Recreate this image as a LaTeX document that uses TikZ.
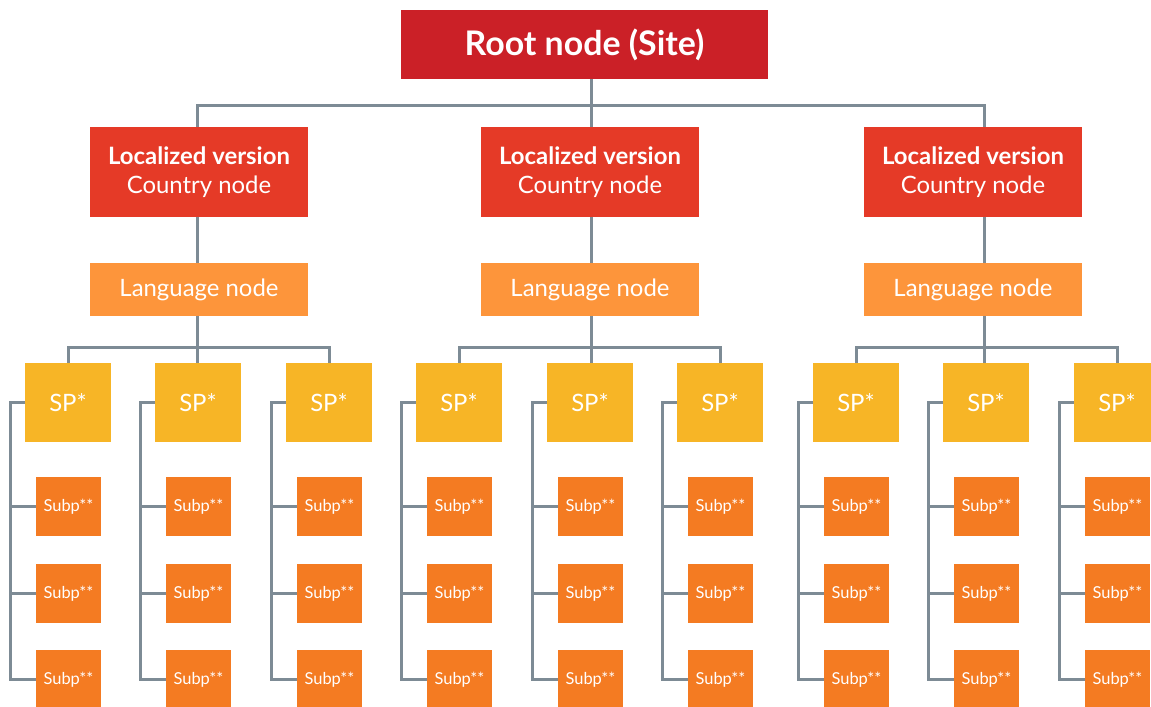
\documentclass[tikz,border=0pt]{standalone}
\usepackage{fontspec}
\setmainfont{Lato}
\definecolor{rootred}{HTML}{CB2027}
\definecolor{countryred}{HTML}{E53A27}
\definecolor{langorange}{HTML}{FD953B}
\definecolor{spyellow}{HTML}{F7B526}
\definecolor{subporange}{HTML}{F47B22}
\definecolor{linkgray}{HTML}{7D8B95}
\tikzset{
  box/.style={rectangle, inner sep=0pt, text=white, align=center},
  rootbox/.style={box, fill=rootred, minimum width=367bp, minimum height=69bp,
    font=\fontsize{34}{38}\bfseries},
  countrybox/.style={box, fill=countryred, minimum width=218bp, minimum height=89bp,
    font=\fontsize{24}{29}\selectfont},
  langbox/.style={box, fill=langorange, minimum width=218bp, minimum height=53bp,
    font=\fontsize{24}{28}\selectfont},
  spbox/.style={box, fill=spyellow, minimum width=86bp, minimum height=79bp,
    font=\fontsize{24}{28}\selectfont},
  subpbox/.style={box, fill=subporange, minimum width=65bp, minimum height=59bp,
    font=\fontsize{16.5}{20}\selectfont},
  link/.style={draw=linkgray, line width=3bp}
}
\begin{document}
\begin{tikzpicture}[x=1bp, y=-1bp]
  \clip (0,0) rectangle (1151,707);
  \fill[white] (0,0) rectangle (1151,707);

  % top level
  \node[rootbox] (r) at (584.5,44.5) {Root node (Site)};
  \coordinate (bus) at (591,106);

  % three branches: index / box centre / spine / SP centres
  \foreach \g/\cx/\sx/\sa/\sb/\sc in {1/199/197/68/198/329, 2/590/591/459/590/720, 3/973/984/856/986/1117}{
    \node[countrybox] (c\g) at (\cx,172) {\textbf{Localized version}\\Country node};
    \node[langbox] (l\g) at (\cx,289.5) {Language node};
    \coordinate (t\g) at (\sx,347);
    \draw[link] (c\g.south -| t\g) -- (l\g.north -| t\g);
    \foreach \j/\x in {1/\sa, 2/\sb, 3/\sc}{
      \node[spbox] (s\g\j) at (\x,402.5) {SP*};
      \coordinate (v\g\j) at (\x-58,402.5);
      \foreach \k/\y in {1/506.5, 2/593.5, 3/679.5}{
        \node[subpbox] (p\g\j\k) at (\x+0.5,\y) {Subp**};
      }
      \draw[link] (s\g\j.west) -| (v\g\j) |- (p\g\j3.west);
      \draw[link] (v\g\j |- p\g\j1.west) -- (p\g\j1.west);
      \draw[link] (v\g\j |- p\g\j2.west) -- (p\g\j2.west);
    }
    \draw[link] (l\g.south -| t\g) -- (s\g2.north -| t\g);
    \draw[link] (s\g1.north) |- (t\g) -| (s\g3.north);
  }

  \draw[link] (r.south -| bus) -- (c2.north -| bus);
  \draw[link] (c1.north -| t1) |- (bus) -| (c3.north -| t3);
\end{tikzpicture}
\end{document}
